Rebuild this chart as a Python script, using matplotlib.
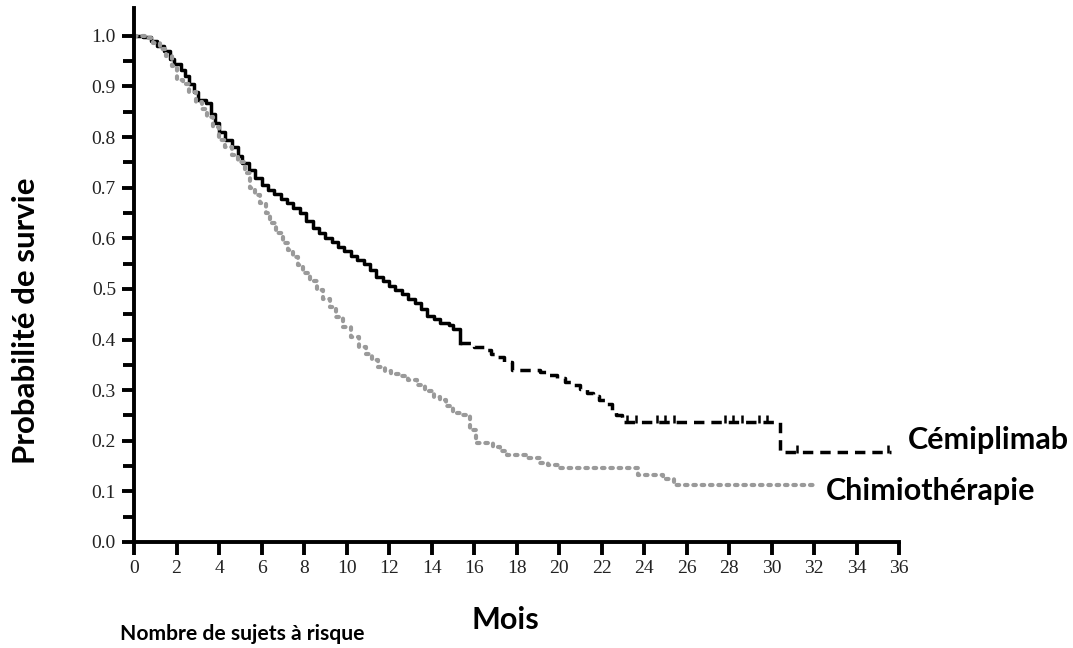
import numpy as np
import matplotlib
matplotlib.use("Agg")
import matplotlib.pyplot as plt

# Cemiplimab survival curve (months, probability)
cemi_t = [0, 0.4, 0.8, 1.1, 1.4, 1.7, 1.9, 2.2, 2.4, 2.6, 2.8, 3.0, 3.4, 3.6, 3.8, 4.0,
          4.3, 4.6, 4.9, 5.1, 5.4, 5.7, 6.0, 6.3, 6.6, 6.9, 7.2, 7.5, 7.8, 8.1, 8.4, 8.7,
          9.0, 9.3, 9.6, 9.9, 10.2, 10.5, 10.8, 11.1, 11.4, 11.7, 12.0, 12.3, 12.6, 12.9,
          13.2, 13.5, 13.8, 14.1, 14.4, 14.8, 15.0, 15.35, 16.0, 16.5, 16.8, 17.1, 17.4,
          17.8, 19.1, 19.5, 19.9, 20.3, 20.7, 21.0, 21.3, 21.6, 21.9, 22.2, 22.5, 22.7,
          22.95, 30.4, 35.6]
cemi_s = [1.0, 0.998, 0.99, 0.98, 0.97, 0.955, 0.945, 0.933, 0.92, 0.905, 0.89, 0.874,
          0.867, 0.845, 0.828, 0.81, 0.795, 0.78, 0.762, 0.749, 0.735, 0.72, 0.705, 0.696,
          0.688, 0.678, 0.67, 0.66, 0.65, 0.635, 0.62, 0.61, 0.6, 0.593, 0.583, 0.574,
          0.566, 0.558, 0.55, 0.538, 0.524, 0.515, 0.505, 0.498, 0.49, 0.48, 0.473, 0.46,
          0.447, 0.44, 0.432, 0.429, 0.42, 0.393, 0.386, 0.38, 0.372, 0.366, 0.355, 0.34,
          0.336, 0.33, 0.324, 0.317, 0.31, 0.302, 0.294, 0.288, 0.281, 0.272, 0.261, 0.25,
          0.237, 0.178, 0.178]
cemi_cens = [23.2, 23.6, 24.6, 25.0, 25.4, 27.8, 28.2, 28.6, 29.4, 29.8, 31.2, 35.5]

# Chemotherapy survival curve
chemo_t = [0, 0.5, 0.9, 1.2, 1.5, 1.8, 2.0, 2.3, 2.6, 2.9, 3.2, 3.43, 3.7, 4.0, 4.3, 4.6,
           4.9, 5.2, 5.46, 5.7, 5.93, 6.2, 6.4, 6.7, 7.0, 7.25, 7.48, 7.7, 7.95, 8.3, 8.6,
           8.9, 9.22, 9.5, 9.84, 10.2, 10.6, 10.9, 11.2, 11.5, 11.8, 12.1, 12.5, 12.9, 13.3,
           13.7, 14.1, 14.4, 14.7, 15.0, 15.5, 15.8, 16.1, 16.9, 17.2, 17.55, 18.5, 19.1,
           19.5, 20.0, 23.7, 24.9, 25.4, 32.2]
chemo_s = [1.0, 0.995, 0.985, 0.975, 0.96, 0.94, 0.913, 0.905, 0.89, 0.87, 0.855, 0.84,
           0.82, 0.795, 0.78, 0.765, 0.75, 0.73, 0.70, 0.685, 0.67, 0.65, 0.63, 0.61, 0.591,
           0.577, 0.563, 0.548, 0.532, 0.515, 0.498, 0.48, 0.464, 0.445, 0.425, 0.405, 0.385,
           0.372, 0.36, 0.345, 0.338, 0.332, 0.327, 0.32, 0.31, 0.298, 0.287, 0.281, 0.268,
           0.255, 0.25, 0.221, 0.196, 0.188, 0.18, 0.172, 0.166, 0.156, 0.152, 0.146, 0.132,
           0.125, 0.113, 0.113]

dash_from = 15.35

fig = plt.figure(figsize=(10.73, 6.48), dpi=100)
ax = fig.add_axes([0.1249, 0.1636, 0.713, 0.824])

cemi_t = np.array(cemi_t)
cemi_s = np.array(cemi_s)
solid = cemi_t <= dash_from
ax.step(cemi_t[solid], cemi_s[solid], where="post", color="black", lw=2.5)
dashed = cemi_t >= dash_from
ax.step(cemi_t[dashed], cemi_s[dashed], where="post", color="black", lw=2.5,
        linestyle=(0, (3, 2)))
cens_s = [cemi_s[np.searchsorted(cemi_t, c, side="right") - 1] + 0.006 for c in cemi_cens]
ax.plot(cemi_cens, cens_s, linestyle="none", marker="|", color="black", ms=6, mew=1.8)

ax.step(chemo_t, chemo_s, where="post", color="#9a9a9a", lw=3.0,
        linestyle=(0, (0.6, 1.4)), dash_capstyle="round")

ax.set_xlim(0, 36)
ax.set_ylim(0, 1.055)
ax.set_xticks(np.arange(0, 37, 2))
ax.set_yticks(np.arange(0, 1.01, 0.1))
ax.set_yticks(np.arange(0.05, 1.0, 0.1), minor=True)
ax.set_yticklabels([f"{v:.1f}" for v in np.arange(0, 1.01, 0.1)])

for s in ["top", "right"]:
    ax.spines[s].set_visible(False)
for s in ["left", "bottom"]:
    ax.spines[s].set_linewidth(2.8)
ax.tick_params(axis="both", which="major", length=9, width=2.8, direction="out",
               labelsize=14, pad=4, labelcolor="#222222")
ax.tick_params(axis="y", which="minor", length=8, width=2.8, direction="out")
for lab in ax.get_xticklabels() + ax.get_yticklabels():
    lab.set_fontfamily("Liberation Serif")

fig.text(0.024, 0.505, "Probabilité de survie", rotation=90, ha="center", va="center",
         family="Lato", fontweight="bold", fontsize=22.5)
fig.text(0.471, 0.043, "Mois", ha="center", va="center", family="Lato",
         fontweight="bold", fontsize=22)
fig.text(0.112, 0.022, "Nombre de sujets à risque", ha="left", va="center", family="Lato",
         fontweight="bold", fontsize=15.2)
fig.text(0.846, 0.321, "Cémiplimab", ha="left", va="center", family="Lato",
         fontweight="bold", fontsize=22)
fig.text(0.77, 0.243, "Chimiothérapie", ha="left", va="center", family="Lato",
         fontweight="bold", fontsize=22)

fig.savefig("out.png", dpi=100)
